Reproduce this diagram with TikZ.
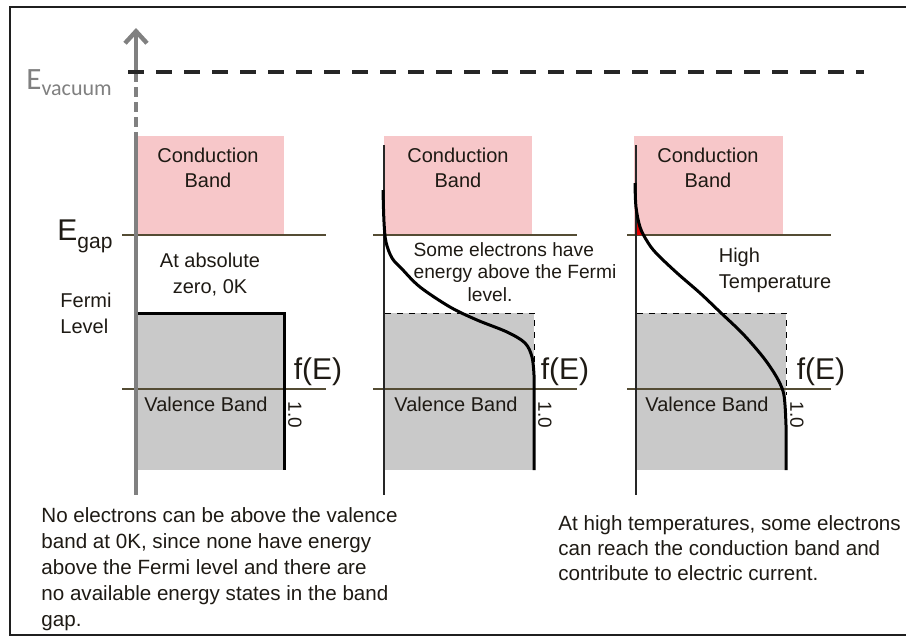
\documentclass[tikz,border=0pt]{standalone}
\usepackage{fontspec}
\setmainfont{Liberation Sans}
\newfontfamily\calibri{Carlito}
\usetikzlibrary{arrows.meta}

\definecolor{cbpink}{RGB}{247,199,201}
\definecolor{vbgray}{RGB}{201,201,201}
\definecolor{axisgray}{RGB}{128,128,128}
\definecolor{edgeline}{RGB}{84,76,52}
\definecolor{inktext}{RGB}{30,26,20}

\begin{document}
\begin{tikzpicture}[x=0.5pt,y=-0.5pt,>={Straight Barb[length=6pt,width=11pt]},
    every node/.style={inner sep=0pt,text=inktext},
    band text/.style={font=\fontsize{10}{12.5}\selectfont,align=center},
    note text/.style={font=\fontsize{10}{13}\selectfont,align=left},
    fe text/.style={font=\fontsize{15}{15}\selectfont},
    tick text/.style={font=\fontsize{9.5}{9.5}\selectfont,rotate=-90},
    band edge/.style={edgeline,line width=1pt},
    thin axis/.style={black!85,line width=0.8pt},
    fd curve/.style={black,line width=1.5pt},
    fermi line/.style={black,dashed,line width=0.5pt}]

  \clip (0,0) rectangle (906,637);
  \draw[black!88,line width=1.25pt] (10,7) rectangle (930,635);

  % energy axis and vacuum level
  \coordinate (tip) at (136,28);
  \coordinate (vac) at (136,72);
  \coordinate (ax1) at (136,135);
  \coordinate (ax1 end) at (136,495);

  % T = 0 K
  \fill[cbpink] (137,136) rectangle (284,235);
  \fill[vbgray] (137,313) rectangle (284,470);
  \draw[band edge] (122,235) -- (326,235);
  \draw[band edge] (122,389) -- (326,389);
  \draw[fd curve] (137,313) -- (284,313) -- (284,470);

  % T > 0
  \fill[cbpink] (384,136) rectangle (532,235);
  \fill[vbgray] (385,313) rectangle (534,470);
  \draw[band edge] (373,235) -- (577,235);
  \draw[band edge] (373,389) -- (577,389);
  \draw[thin axis] (384,145) -- (384,495);
  \draw[fermi line] (385,313) -- (534,313) -- (534,365);
  \draw[fd curve] plot[smooth,tension=0.55] coordinates {(383,190) (384,222) (386,242)
    (392,258) (402,269) (420,287) (450,307) (477,320) (507,332) (525,343) (532,357)
    (534,375)} -- (534,470);

  % high T
  \fill[cbpink] (634,136) rectangle (783,235);
  \fill[vbgray] (637,313) rectangle (786,470);
  \draw[band edge] (627,235) -- (831,235);
  \draw[band edge] (627,389) -- (831,389);
  \draw[thin axis] (636,145) -- (636,495);
  \draw[fermi line] (637,313) -- (786,313) -- (786,395);
  \fill[red!90!black] (637,219) -- (637,235) -- (644,235) -- (640,226) -- cycle;
  \draw[fd curve] plot[smooth,tension=0.55] coordinates {(635,183) (636,207) (640,227)
    (647,241) (656,253) (677,273) (700,293) (720,312) (743,334) (763,357) (776,376)
    (783,391) (785,405) (786,425)} -- (786,470);

  \draw[axisgray,line width=2.2pt,->] (vac) -- (tip);
  \draw[axisgray,line width=2.2pt,dash pattern=on 5pt off 2.5pt] (vac) -- (ax1);
  \draw[axisgray,line width=2.2pt] (ax1) -- (ax1 end);
  \draw[black!85,line width=2pt,dash pattern=on 8pt off 6pt] (128,72) -- (864,72);

  \node[font=\calibri\fontsize{15.5}{15.5}\selectfont,text=axisgray,anchor=base west]
    (evac) at (26,89) {E\raisebox{-3pt}{\fontsize{11}{11}\selectfont vacuum}};
  \node[anchor=base west,font=\fontsize{15}{15}\selectfont] (egap) at (57,240)
    {E\raisebox{-4pt}{\fontsize{10.5}{10.5}\selectfont gap}};
  \node[note text] (fermi) at (86,313) {Fermi\\Level};

  \node[band text] (cb1) at (208,168) {Conduction\\Band};
  \node[band text] (cb2) at (458,168) {Conduction\\Band};
  \node[band text] (cb3) at (708,168) {Conduction\\Band};
  \node[band text] (vb1) at (206,404) {Valence Band};
  \node[band text] (vb2) at (456,404) {Valence Band};
  \node[band text] (vb3) at (707,404) {Valence Band};
  \node[fe text] (fe1) at (318,372) {f(E)};
  \node[fe text] (fe2) at (565,372) {f(E)};
  \node[fe text] (fe3) at (821,372) {f(E)};
  \node[tick text] (one1) at (295,415) {1.0};
  \node[tick text] (one2) at (545,415) {1.0};
  \node[tick text] (one3) at (797,415) {1.0};

  \node[band text,font=\fontsize{10}{13}\selectfont] (zero) at (210,275) {At absolute\\zero, 0K};
  \node[note text,font=\fontsize{9.6}{11.3}\selectfont] (some) at (515,272)
    {Some electrons have\\energy above the Fermi\\\hspace*{27pt}level.};
  \node[note text] (high) at (775,270) {High\\Temperature};

  \node[note text,font=\fontsize{10.3}{13}\selectfont,anchor=north west] (cap1) at (41,507)
    {No electrons can be above the valence\\band at 0K, since none have energy\\above the Fermi level and there are\\no available energy states in the band\\gap.};
  \node[note text,font=\fontsize{10.3}{12.5}\selectfont,anchor=north west] (cap2) at (558,515)
    {At high temperatures, some electrons\\can reach the conduction band and\\contribute to electric current.};
\end{tikzpicture}
\end{document}
